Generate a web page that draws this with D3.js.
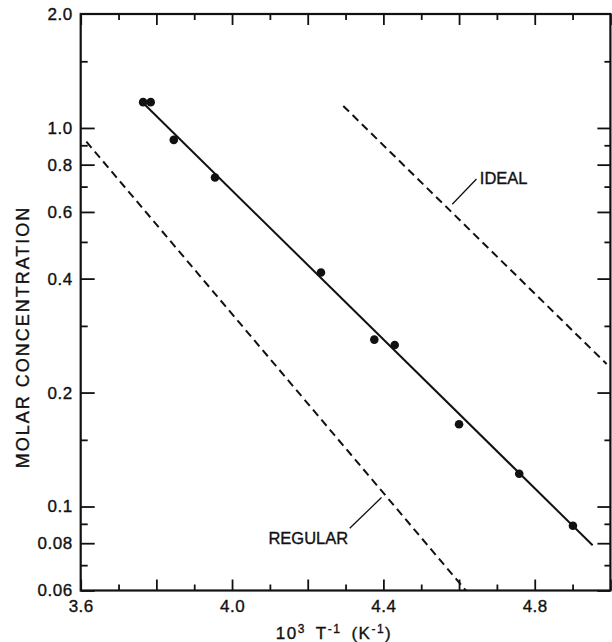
<!DOCTYPE html>
<html>
<head>
<meta charset="utf-8">
<script src="https://cdn.jsdelivr.net/npm/d3@7"></script>
<style>
  body { margin: 0; background: #fff; }
  text { font-family: "Liberation Sans", Arial, sans-serif; fill: #111; }
  .axis path { display: none; }
  .axis line { stroke: #111; stroke-width: 1.8; }
  .axis text { font-size: 17px; letter-spacing: 0.5px; stroke: #111; stroke-width: 0.35; }
</style>
</head>
<body>
<div id="chart"></div>
<script>
// measured points (10^3/T, molar concentration)
var pointX = [3.765, 3.785, 3.846, 3.955, 4.235, 4.376, 4.430, 4.600, 4.759, 4.901];
var pointC = [1.17, 1.17, 0.93, 0.74, 0.415, 0.276, 0.267, 0.165, 0.122, 0.089];

// fitted line and the two model lines
var fitX = [3.759, 4.953];
var fitC = [1.18, 0.079];
var idealX = [4.294, 4.99];
var idealC = [1.143, 0.238];
var regularX = [3.615, 4.618];
var regularC = [0.92, 0.06];

// ticks
var xMajor = [3.6, 3.8, 4.0, 4.2, 4.4, 4.6, 4.8, 5.0];
var xMinor = [3.7, 3.9, 4.1, 4.3, 4.5, 4.7, 4.9];
var xLabels = [3.6, 4.0, 4.4, 4.8];
var yMajor = [1.0, 0.8, 0.6, 0.4, 0.2, 0.1, 0.08, 0.06];
var yMinor = [1.5, 0.9, 0.7, 0.5, 0.3, 0.15, 0.09, 0.07];
var yLabels = [2.0, 1.0, 0.8, 0.6, 0.4, 0.2, 0.1, 0.08, 0.06];
var yLabelText = ["2.0", "1.0", "0.8", "0.6", "0.4", "0.2", "0.1", "0.08", "0.06"];

var width = 612,
  height = 642;

var x = d3.scaleLinear().domain([3.6, 5.0]).range([80.7, 610.4]);
var y = d3.scaleLog().domain([0.06, 2.0]).range([590.5, 14]);

var svg = d3
  .select("#chart")
  .append("svg")
  .attr("width", width)
  .attr("height", height);

function pairs(xs, cs) {
  return xs.map(function (d, i) {
    return [d, cs[i]];
  });
}

var line = d3
  .line()
  .x(function (d) {
    return x(d[0]);
  })
  .y(function (d) {
    return y(d[1]);
  });

//ticks all point inward
var x0 = x.range()[0],
  x1 = x.range()[1],
  y0 = y.range()[0],
  y1 = y.range()[1];

svg.append("g").attr("class", "axis")
  .attr("transform", "translate(0," + y0 + ")")
  .call(d3.axisBottom(x).tickValues(xMajor).tickSize(-11).tickFormat(""));
svg.append("g").attr("class", "axis")
  .attr("transform", "translate(0," + y0 + ")")
  .call(d3.axisBottom(x).tickValues(xMinor).tickSize(-6).tickFormat(""));
svg.append("g").attr("class", "axis")
  .attr("transform", "translate(0," + y0 + ")")
  .call(d3.axisBottom(x).tickValues(xLabels).tickSize(0).tickPadding(9).tickFormat(d3.format(".1f")));

svg.append("g").attr("class", "axis")
  .attr("transform", "translate(0," + y1 + ")")
  .call(d3.axisTop(x).tickValues(xMajor).tickSize(-11).tickFormat(""));
svg.append("g").attr("class", "axis")
  .attr("transform", "translate(0," + y1 + ")")
  .call(d3.axisTop(x).tickValues(xMinor).tickSize(-6).tickFormat(""));

svg.append("g").attr("class", "axis")
  .attr("transform", "translate(" + x0 + ",0)")
  .call(d3.axisLeft(y).tickValues(yMajor).tickSize(-14).tickFormat(""));
svg.append("g").attr("class", "axis")
  .attr("transform", "translate(" + x0 + ",0)")
  .call(d3.axisLeft(y).tickValues(yMinor).tickSize(-7).tickFormat(""));
svg.append("g").attr("class", "axis")
  .attr("transform", "translate(" + x0 + ",0)")
  .call(
    d3.axisLeft(y).tickValues(yLabels).tickSize(0).tickPadding(8)
      .tickFormat(function (d, i) {
        return yLabelText[i];
      })
  );

svg.append("g").attr("class", "axis")
  .attr("transform", "translate(" + x1 + ",0)")
  .call(d3.axisRight(y).tickValues(yMajor).tickSize(-13).tickFormat(""));
svg.append("g").attr("class", "axis")
  .attr("transform", "translate(" + x1 + ",0)")
  .call(d3.axisRight(y).tickValues(yMinor).tickSize(-6).tickFormat(""));

//frame
svg.append("rect")
  .attr("x", x0)
  .attr("y", y1)
  .attr("width", x1 - x0)
  .attr("height", y0 - y1)
  .attr("fill", "none")
  .attr("stroke", "#111")
  .attr("stroke-width", 2.2);

//lines
svg.append("path")
  .datum(pairs(fitX, fitC))
  .attr("d", line)
  .attr("fill", "none")
  .attr("stroke", "#111")
  .attr("stroke-width", 2);

svg.append("path")
  .datum(pairs(idealX, idealC))
  .attr("d", line)
  .attr("fill", "none")
  .attr("stroke", "#111")
  .attr("stroke-width", 2)
  .attr("stroke-dasharray", "8,5");

svg.append("path")
  .datum(pairs(regularX, regularC))
  .attr("d", line)
  .attr("fill", "none")
  .attr("stroke", "#111")
  .attr("stroke-width", 2)
  .attr("stroke-dasharray", "8,5");

//points
svg.append("g")
  .selectAll("circle")
  .data(pairs(pointX, pointC))
  .enter()
  .append("circle")
  .attr("cx", function (d) {
    return x(d[0]);
  })
  .attr("cy", function (d) {
    return y(d[1]);
  })
  .attr("r", 4.3)
  .attr("fill", "#111");

//line labels with leaders
var notes = [
  { text: "IDEAL", lx: [4.582, 4.646], lc: [0.629, 0.733], tx: 4.655, tc: 0.711, anchor: "start" },
  { text: "REGULAR", lx: [4.395, 4.311], lc: [0.1056, 0.0876], tx: 4.307, tc: 0.0794, anchor: "end" }
];

notes.forEach(function (n) {
  svg.append("path")
    .datum(pairs(n.lx, n.lc))
    .attr("d", line)
    .attr("stroke", "#111")
    .attr("stroke-width", 1.3);
  svg.append("text")
    .attr("x", x(n.tx))
    .attr("y", y(n.tc))
    .attr("text-anchor", n.anchor)
    .style("font-size", "16.5px")
    .style("stroke", "#111")
    .style("stroke-width", 0.35)
    .text(n.text);
});

//axis titles
svg.append("text")
  .attr("transform", "translate(29,337) rotate(-90)")
  .attr("text-anchor", "middle")
  .style("font-size", "18px")
  .style("letter-spacing", "2px")
  .style("stroke", "#111")
  .style("stroke-width", 0.35)
  .text("MOLAR CONCENTRATION");

var xt = svg.append("text")
  .attr("x", 334)
  .attr("y", 639)
  .attr("text-anchor", "middle")
  .style("font-size", "17px")
  .style("letter-spacing", "1.5px")
  .style("stroke", "#111")
  .style("stroke-width", 0.35);
xt.append("tspan").text("10");
xt.append("tspan").attr("dy", -6).style("font-size", "12px").text("3");
xt.append("tspan").attr("dy", 6).text("\u2002T");
xt.append("tspan").attr("dy", -6).style("font-size", "12px").text("-1");
xt.append("tspan").attr("dy", 6).text("\u2002(K");
xt.append("tspan").attr("dy", -6).style("font-size", "12px").text("-1");
xt.append("tspan").attr("dy", 6).text(")");
</script>
</body>
</html>
